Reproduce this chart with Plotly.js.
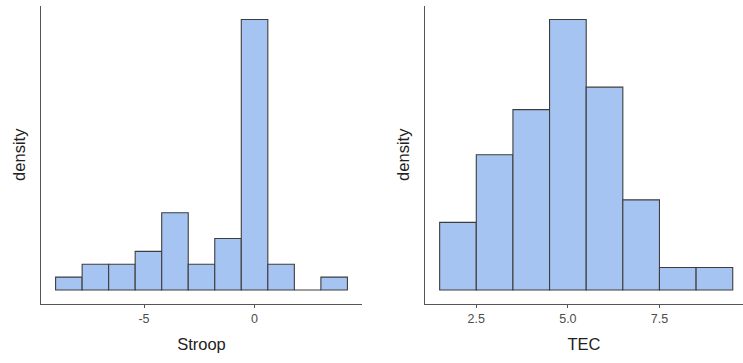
<!DOCTYPE html>
<html>
<head>
<meta charset="utf-8">
<script src="https://cdn.plot.ly/plotly-3.0.1.min.js"></script>
<style>html,body{margin:0;padding:0;background:#fff}#chart{width:743px;height:363px}</style>
</head>
<body>
<div id="chart"></div>
<script>
// Stroop histogram: bin centres (width 1.2) and counts
const stroopCenters = [-8.4, -7.2, -6.0, -4.8, -3.6, -2.4, -1.2, 0, 1.2, 2.4, 3.6];
const stroopCounts  = [1, 2, 2, 3, 6, 2, 4, 21, 2, 0, 1];
const stroopWidth = 1.2;
// TEC histogram: bin centres (width 1) and counts
const tecCenters = [2, 3, 4, 5, 6, 7, 8, 9];
const tecCounts  = [3, 6, 8, 12, 9, 4, 1, 1];
const tecWidth = 1;
const xTitles = ["Stroop", "TEC"];
const yTitle = "density";
const stroopTicks = [-5, 0];
const stroopTickText = ["-5", "0"];
const tecTicks = [2.5, 5.0, 7.5];
const tecTickText = ["2.5", "5.0", "7.5"];

const sum = a => a.reduce((s, v) => s + v, 0);
const dens = (c, w) => { const n = sum(c); return c.map(v => v / (n * w)); };
const stroopDens = dens(stroopCounts, stroopWidth);
const tecDens = dens(tecCounts, tecWidth);

const fill = '#a6c4f1', edge = '#3d3d3d';
const traces = [
  {type: 'bar', x: stroopCenters, y: stroopDens, width: stroopCenters.map(() => stroopWidth),
   marker: {color: fill, line: {color: edge, width: 1.1}}, xaxis: 'x', yaxis: 'y', hoverinfo: 'skip'},
  {type: 'bar', x: tecCenters, y: tecDens, width: tecCenters.map(() => tecWidth),
   marker: {color: fill, line: {color: edge, width: 1.1}}, xaxis: 'x2', yaxis: 'y2', hoverinfo: 'skip'}
];

const axisCommon = {
  showgrid: false, zeroline: false, showline: true, linecolor: '#555555', linewidth: 1.2,
  ticks: 'outside', ticklen: 3, tickcolor: '#555555', tickwidth: 1,
  tickfont: {family: 'Liberation Sans, Arial, sans-serif', size: 12.5, color: '#4d4d4d'},
  title: {font: {family: 'Liberation Sans, Arial, sans-serif', size: 16.5, color: '#222222'}, standoff: 13}
};
const maxS = Math.max(...stroopDens), maxT = Math.max(...tecDens);
const yDom = [0.1639, 0.9835];

const layout = {
  width: 743, height: 363, margin: {l: 0, r: 0, t: 0, b: 0},
  paper_bgcolor: '#ffffff', plot_bgcolor: '#ffffff', showlegend: false, bargap: 0,
  xaxis: Object.assign({}, axisCommon, {domain: [41/743, 362/743], range: [-9.66, 4.86],
    tickvals: stroopTicks, ticktext: stroopTickText,
    title: Object.assign({}, axisCommon.title, {text: xTitles[0]}), anchor: 'y'}),
  yaxis: Object.assign({}, axisCommon, {domain: yDom, range: [-0.05 * maxS, 1.05 * maxS],
    showticklabels: false, ticks: '', title: Object.assign({}, axisCommon.title, {text: yTitle, standoff: 10}), anchor: 'x'}),
  xaxis2: Object.assign({}, axisCommon, {domain: [425/743, 1], range: [1.1, 9.78],
    tickvals: tecTicks, ticktext: tecTickText,
    title: Object.assign({}, axisCommon.title, {text: xTitles[1]}), anchor: 'y2'}),
  yaxis2: Object.assign({}, axisCommon, {domain: yDom, range: [-0.05 * maxT, 1.05 * maxT],
    showticklabels: false, ticks: '', title: Object.assign({}, axisCommon.title, {text: yTitle, standoff: 10}), anchor: 'x2'})
};

Plotly.newPlot('chart', traces, layout, {staticPlot: true, displayModeBar: false});
</script>
</body>
</html>
